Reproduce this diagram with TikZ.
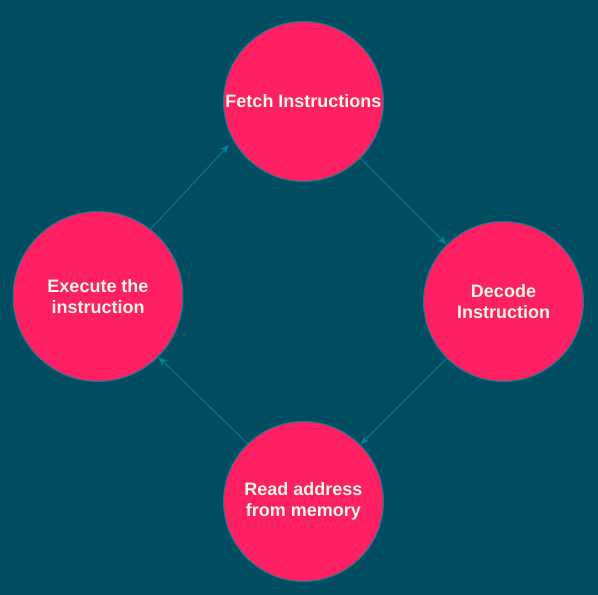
\documentclass[tikz,border=0pt]{standalone}
\usepackage{fontspec}
\setmainfont{Liberation Sans}
\usetikzlibrary{arrows.meta}
\definecolor{bgteal}{HTML}{004C60}
\definecolor{stepfill}{HTML}{FF1F63}
\definecolor{edgeteal}{HTML}{0A8090}
\definecolor{labelcream}{HTML}{EAF8E2}
\begin{document}
\begin{tikzpicture}[x=1pt,y=-1pt,
  stage/.style={circle, draw=edgeteal, line width=1pt, fill=stepfill,
    inner sep=0pt, align=center, text=labelcream,
    font=\fontsize{18}{21}\selectfont\bfseries},
  conn/.style={draw=edgeteal, line width=0.8pt,
    -{Stealth[length=9pt,width=7pt,inset=2.5pt]}}]
  % page and backdrop
  \fill[bgteal] (0,0) rectangle (598,595);
  \useasboundingbox (0,0) rectangle (598,595);

  % the four stages of the cycle
  \node[stage, minimum size=160pt] (fe) at (303.5,101.5) {Fetch Instructions};
  \node[stage, minimum size=160pt] (dc) at (503.5,301.5) {Decode\\Instruction};
  \node[stage, minimum size=160pt] (rd) at (303.5,501.5) {Read address\\from memory};
  \node[stage, minimum size=170pt] (ex) at (98,296.5) {Execute the\\instruction};

  % connectors around the cycle
  \draw[conn] (fe.-45) -- (dc.135);
  \draw[conn] (dc.225) -- (rd.45);
  \draw[conn] (rd.134) -- (ex.-45);
  \draw[conn, shorten >=6pt] (ex.52) -- (fe.209);
\end{tikzpicture}
\end{document}
